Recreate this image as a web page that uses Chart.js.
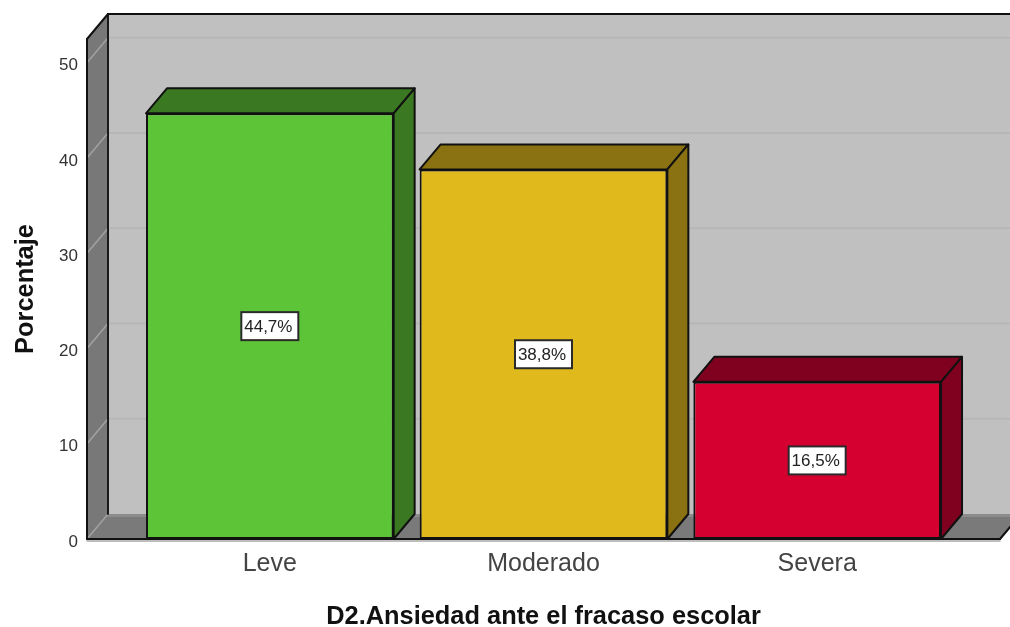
<!DOCTYPE html>
<html>
<head>
<meta charset="utf-8">
<script src="https://cdn.jsdelivr.net/npm/chart.js@4"></script>
<style>
  html, body { margin: 0; padding: 0; background: #fff; overflow: hidden; }
  canvas { display: block; }
</style>
</head>
<body>
<canvas id="barChart" width="1010" height="627"></canvas>
<script>
// --- data ---
const categories = ['Leve', 'Moderado', 'Severa'];
const percentages = [44.7, 38.8, 16.5];
const yTicks = [0, 10, 20, 30, 40, 50];

// --- colours ---
const frontColors = ['#5ec437', '#e0ba1c', '#d50030'];
const sideColors = ['#3a7822', '#8a7212', '#80001f'];

// 3D depth of the box, in pixels
const DX = 21;
const DY = -25;
const FONT = '"Liberation Sans", Arial, sans-serif';

function poly(ctx, pts, fill, stroke, lw) {
    ctx.beginPath();
    pts.forEach((p, i) => i ? ctx.lineTo(p[0], p[1]) : ctx.moveTo(p[0], p[1]));
    ctx.closePath();
    if (fill) { ctx.fillStyle = fill; ctx.fill(); }
    if (stroke) { ctx.strokeStyle = stroke; ctx.lineWidth = lw || 1.5; ctx.stroke(); }
}

function line(ctx, x1, y1, x2, y2, color, lw) {
    ctx.beginPath();
    ctx.moveTo(x1, y1);
    ctx.lineTo(x2, y2);
    ctx.strokeStyle = color;
    ctx.lineWidth = lw;
    ctx.stroke();
}

// back wall, left wall, floor and gridlines
const boxPlugin = {
    id: 'box3d',
    beforeDatasetsDraw(chart) {
        const { ctx, chartArea: a, scales: { y } } = chart;
        const L = a.left, R = a.right, T = a.top, B = a.bottom;
        ctx.save();
        ctx.lineJoin = 'round';
        ctx.lineCap = 'round';

        poly(ctx, [[L + DX, T + DY], [R + DX, T + DY], [R + DX, B + DY], [L + DX, B + DY]], '#c0c0c0');
        poly(ctx, [[L, T], [L + DX, T + DY], [L + DX, B + DY], [L, B]], '#787878');
        poly(ctx, [[L, B], [L + DX, B + DY], [R + DX, B + DY], [R, B]], '#7a7a7a');
        line(ctx, L + DX, B + DY + 1.5, R + DX, B + DY + 1.5, '#8c8c8c', 3);

        yTicks.forEach(v => {
            const py = y.getPixelForValue(v);
            if (v > 0) line(ctx, L + DX, py + DY, R + DX, py + DY, '#b6b6b6', 2);
            line(ctx, L, py, L + DX, py + DY, '#a2a2a2', 1.5);
        });

        line(ctx, L + DX, T + DY, L + DX, B + DY, '#1a1a1a', 2);
        line(ctx, L + DX, T + DY, R + DX, T + DY, '#111', 2);
        line(ctx, L, T, L + DX, T + DY, '#111', 2);
        line(ctx, L, T, L, B, '#111', 2);
        line(ctx, L, B + 2, R, B + 2, '#a8a8a8', 1.5);
        line(ctx, L, B, R, B, '#111', 2);
        line(ctx, R, B, R + DX, B + DY, '#111', 2);

        // top and side faces of the bars
        chart.getDatasetMeta(0).data.forEach((bar, i) => {
            const l = bar.x - bar.width / 2, r = bar.x + bar.width / 2;
            const t = bar.y, b = bar.base;
            poly(ctx, [[l, t], [l + DX, t + DY], [r + DX, t + DY], [r, t]], sideColors[i], '#111', 2);
            poly(ctx, [[r, t], [r + DX, t + DY], [r + DX, b + DY], [r, b]], sideColors[i], '#111', 2);
        });
        ctx.restore();
    },
    afterDatasetsDraw(chart) {
        const { ctx, scales: { y } } = chart;
        ctx.save();
        ctx.font = '17px ' + FONT;
        ctx.textAlign = 'center';
        ctx.textBaseline = 'middle';
        chart.getDatasetMeta(0).data.forEach((bar, i) => {
            const cy = y.getPixelForValue(percentages[i] / 2);
            const text = percentages[i].toFixed(1).replace('.', ',') + '%';
            ctx.fillStyle = '#fff';
            ctx.fillRect(bar.x - 28.5, cy - 14, 57, 28);
            ctx.strokeStyle = '#2a2a2a';
            ctx.lineWidth = 2;
            ctx.strokeRect(bar.x - 28.5, cy - 14, 57, 28);
            ctx.fillStyle = '#222';
            ctx.fillText(text, bar.x - 1.5, cy + 1);
        });
        ctx.restore();
    }
};

new Chart(document.getElementById('barChart'), {
    type: 'bar',
    data: {
        datasets: [{
            data: categories.map((c, i) => ({ x: i, y: percentages[i] })),
            backgroundColor: frontColors,
            borderColor: '#111',
            borderWidth: 2,
            borderSkipped: false,
            categoryPercentage: 1,
            barPercentage: 0.905
        }]
    },
    plugins: [boxPlugin],
    options: {
        responsive: false,
        animation: false,
        layout: { padding: { top: 39, right: 10, left: 0, bottom: 0 } },
        plugins: { legend: { display: false }, tooltip: { enabled: false } },
        scales: {
            x: {
                type: 'linear',
                offset: false,
                min: -0.668,
                max: 2.668,
                afterBuildTicks: axis => { axis.ticks = categories.map((c, i) => ({ value: i })); },
                afterFit: axis => { axis.height = 88; },
                grid: { display: false, drawTicks: false },
                border: { display: false },
                ticks: {
                    autoSkip: false,
                    maxRotation: 0,
                    padding: 10,
                    color: '#444',
                    font: { family: FONT, size: 25 },
                    callback: v => categories[v]
                },
                title: {
                    display: true,
                    text: 'D2.Ansiedad ante el fracaso escolar',
                    color: '#111',
                    font: { family: FONT, size: 25.4, weight: 'bold' },
                    padding: { top: 0, bottom: -5 }
                }
            },
            y: {
                min: 0,
                max: 52.5,
                afterFit: axis => { axis.width = 87; },
                grid: { display: false, drawTicks: false },
                border: { display: false },
                ticks: {
                    stepSize: 10,
                    includeBounds: false,
                    padding: 9,
                    labelOffset: 3,
                    color: '#333',
                    font: { family: FONT, size: 17 }
                },
                title: {
                    display: true,
                    text: 'Porcentaje',
                    color: '#111',
                    font: { family: FONT, size: 25.4, weight: 'bold' },
                    padding: { top: 11, bottom: 0 }
                }
            }
        }
    }
});
</script>
</body>
</html>
